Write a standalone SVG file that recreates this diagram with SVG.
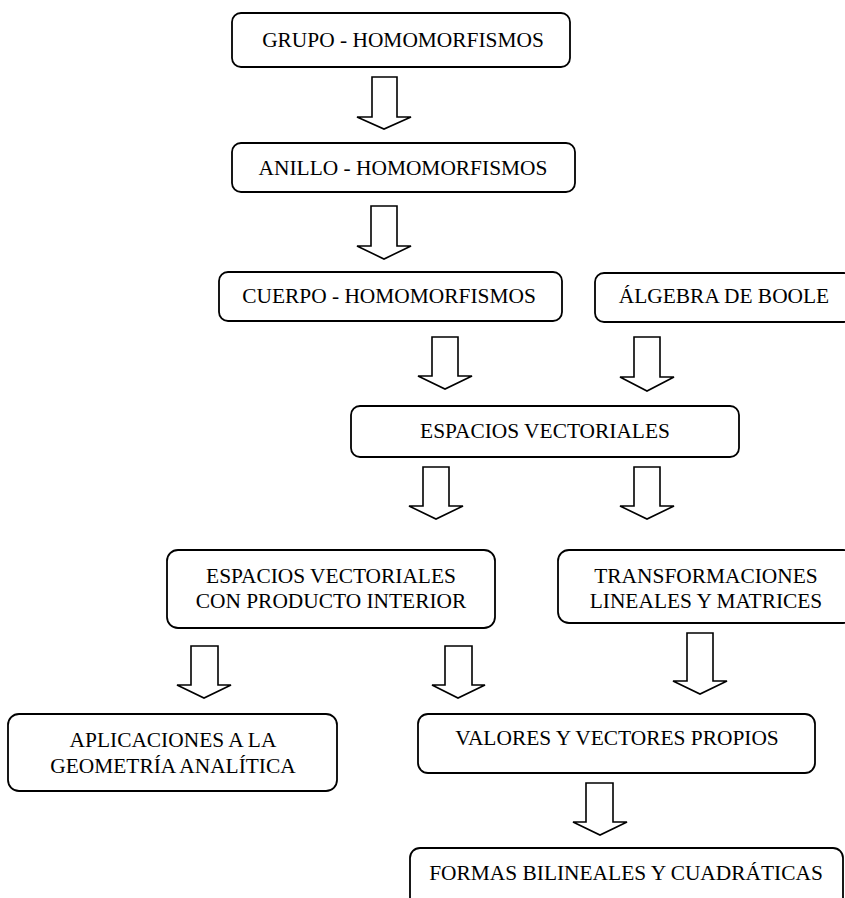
<svg xmlns="http://www.w3.org/2000/svg" width="845" height="898" viewBox="0 0 845 898">
<style>
.box{fill:#fff;stroke:#000;stroke-width:1.8}
.arr{fill:#fff;stroke:#000;stroke-width:1.6;stroke-linejoin:miter}
text{font-family:"Liberation Serif","Times New Roman",serif;font-size:21.4px;fill:#000;text-anchor:middle}
</style>
<rect width="845" height="898" fill="#fff"/>
<g id="connectors">
<path class="arr" d="M372,77 V117 H357 L384,129 L411,117 H397 V77 Z"/>
<path class="arr" d="M371,206 V246 H357 L384,259 L411,246 H397 V206 Z"/>
<path class="arr" d="M432,337 V376 H418 L445,389 L472,376 H458 V337 Z"/>
<path class="arr" d="M634,337 V377 H620 L647,391 L674,377 H660 V337 Z"/>
<path class="arr" d="M423,467 V506 H409 L436,519 L463,506 H449 V467 Z"/>
<path class="arr" d="M634,467 V506 H620 L647,519 L674,506 H660 V467 Z"/>
<path class="arr" d="M191,646 V685 H177 L204,698 L231,685 H218 V646 Z"/>
<path class="arr" d="M445,646 V685 H432 L458,698 L485,685 H472 V646 Z"/>
<path class="arr" d="M687,633 V681 H673 L700,694 L727,681 H713 V633 Z"/>
<path class="arr" d="M586,783 V822 H573 L600,835 L627,822 H613 V783 Z"/>
</g>
<g id="grupo">
<rect class="box" x="232" y="13" width="338" height="54" rx="9"/>
<text x="403" y="47">GRUPO - HOMOMORFISMOS</text>
</g>
<g id="anillo">
<rect class="box" x="232" y="143" width="343" height="49" rx="9"/>
<text x="403" y="175">ANILLO - HOMOMORFISMOS</text>
</g>
<g id="cuerpo">
<rect class="box" x="219" y="272" width="343" height="49" rx="9"/>
<text x="389" y="303">CUERPO - HOMOMORFISMOS</text>
</g>
<g id="boole">
<rect class="box" x="595" y="273" width="258" height="49" rx="9"/>
<text x="724" y="303">ÁLGEBRA DE BOOLE</text>
</g>
<g id="espacios">
<rect class="box" x="351" y="406" width="388" height="51" rx="9"/>
<text x="545" y="438">ESPACIOS VECTORIALES</text>
</g>
<g id="producto-interior">
<rect class="box" x="167" y="550" width="328" height="78" rx="11"/>
<text x="331" y="583">ESPACIOS VECTORIALES</text>
<text x="331" y="608">CON PRODUCTO INTERIOR</text>
</g>
<g id="transformaciones">
<rect class="box" x="558" y="550" width="296" height="73" rx="11"/>
<text x="706" y="583">TRANSFORMACIONES</text>
<text x="706" y="608">LINEALES Y MATRICES</text>
</g>
<g id="aplicaciones">
<rect class="box" x="8" y="714" width="329" height="77" rx="11"/>
<text x="173" y="747">APLICACIONES A LA</text>
<text x="173" y="773">GEOMETRÍA ANALÍTICA</text>
</g>
<g id="valores">
<rect class="box" x="418" y="714" width="397" height="59" rx="10"/>
<text x="617" y="745">VALORES Y VECTORES PROPIOS</text>
</g>
<g id="formas">
<rect class="box" x="410" y="848" width="433" height="70" rx="10"/>
<text x="626" y="880">FORMAS BILINEALES Y CUADRÁTICAS</text>
</g>
</svg>
